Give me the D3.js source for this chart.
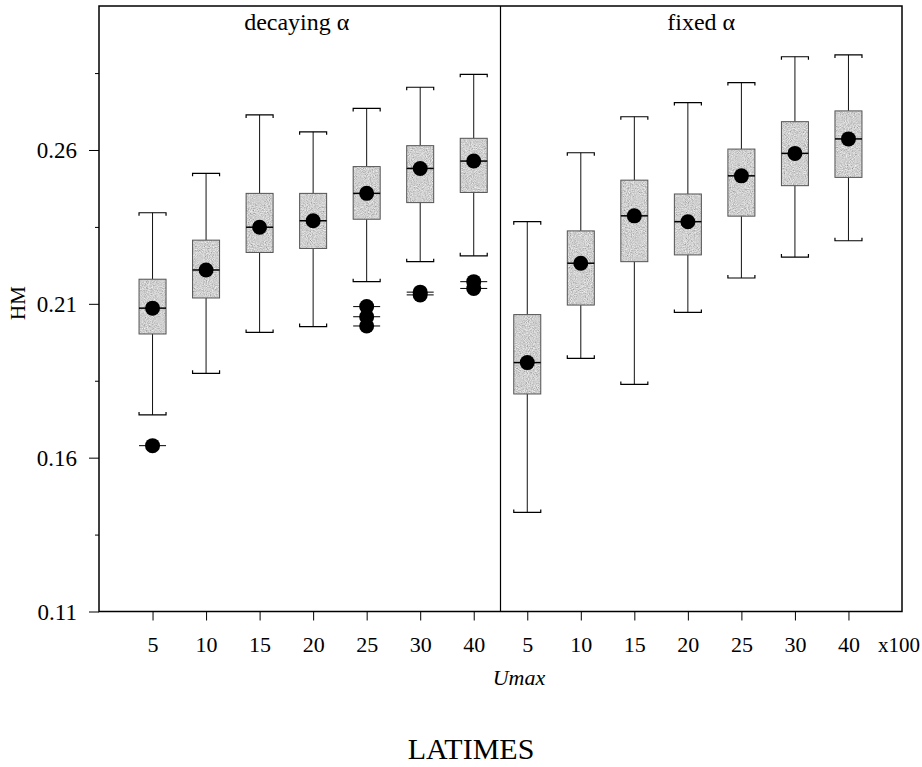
<!DOCTYPE html>
<html>
<head>
<meta charset="utf-8">
<script src="https://cdn.jsdelivr.net/npm/d3@7"></script>
<style>
  html, body { margin: 0; padding: 0; background: #fff; }
  svg { display: block; }
  text { font-family: "Liberation Serif", "Times New Roman", serif; fill: #000; }
</style>
</head>
<body>
<svg id="chart" width="922" height="767"></svg>
<script>
// ---------- data ----------
const categories = ["5", "10", "15", "20", "25", "30", "40"];
const panelTitles = ["decaying \u03b1", "fixed \u03b1"];
const yTickLabels = ["0.11", "0.16", "0.21", "0.26"];
const xUnitLabel = "x100";
const xAxisTitle = "Umax";
const yAxisTitle = "HM";
const chartTitle = "LATIMES";

// decaying alpha
const decayWhiskerHigh = [0.2396, 0.2524, 0.2714, 0.2659, 0.2735, 0.2804, 0.2846];
const decayQ3          = [0.2180, 0.2307, 0.2459, 0.2459, 0.2546, 0.2614, 0.2638];
const decayMedian      = [0.2086, 0.2210, 0.2349, 0.2370, 0.2459, 0.2540, 0.2564];
const decayQ1          = [0.2002, 0.2119, 0.2267, 0.2280, 0.2375, 0.2429, 0.2462];
const decayWhiskerLow  = [0.1739, 0.1874, 0.2007, 0.2026, 0.2172, 0.2237, 0.2256];
const decayOutliers    = [[0.1639], [], [], [], [0.2091, 0.2058, 0.2028], [0.2138, 0.2129], [0.2172, 0.2150]];

// fixed alpha
const fixedWhiskerHigh = [0.2367, 0.2591, 0.2708, 0.2754, 0.2819, 0.2903, 0.2909];
const fixedQ3          = [0.2065, 0.2337, 0.2502, 0.2457, 0.2603, 0.2692, 0.2727];
const fixedMedian      = [0.1909, 0.2232, 0.2386, 0.2367, 0.2516, 0.2589, 0.2636];
const fixedQ1          = [0.1807, 0.2096, 0.2237, 0.2259, 0.2385, 0.2484, 0.2511];
const fixedWhiskerLow  = [0.1422, 0.1923, 0.1838, 0.2072, 0.2184, 0.2252, 0.2305];
const fixedOutliers    = [[], [], [], [], [], [], []];

// ---------- build ----------
const panels = [
  { title: panelTitles[0], hi: decayWhiskerHigh, q3: decayQ3, med: decayMedian, q1: decayQ1, lo: decayWhiskerLow, out: decayOutliers },
  { title: panelTitles[1], hi: fixedWhiskerHigh, q3: fixedQ3, med: fixedMedian, q1: fixedQ1, lo: fixedWhiskerLow, out: fixedOutliers }
];
const boxes = [];
panels.forEach((p, pi) => {
  categories.forEach((c, ci) => {
    boxes.push({ pos: pi * categories.length + ci + 1, label: c,
      hi: p.hi[ci], q3: p.q3[ci], med: p.med[ci], q1: p.q1[ci], lo: p.lo[ci], out: p.out[ci] });
  });
});

const svg = d3.select("#chart");
const mLeft = 99, mRight = 902, mTop = 6, mBottom = 611.5;
const x = d3.scaleLinear().domain([0, 15]).range([mLeft, mRight]);
const y = d3.scaleLinear().domain([0.11, 0.3068]).range([mBottom, mTop]);
const divider = 7.5;

// grainy stipple texture for the boxes
const defs = svg.append("defs");
const flt = defs.append("filter").attr("id", "grain")
  .attr("x", "0").attr("y", "0").attr("width", "1").attr("height", "1");
flt.append("feTurbulence").attr("type", "fractalNoise").attr("baseFrequency", 0.95)
  .attr("numOctaves", 2).attr("seed", 7).attr("result", "noise");
flt.append("feColorMatrix").attr("in", "noise").attr("type", "matrix")
  .attr("values", "0.33 0.33 0.33 0 0  0.33 0.33 0.33 0 0  0.33 0.33 0.33 0 0  0 0 0 0 1")
  .attr("result", "grey");
const ct = flt.append("feComponentTransfer").attr("in", "grey").attr("result", "tone");
["feFuncR", "feFuncG", "feFuncB"].forEach(f =>
  ct.append(f).attr("type", "linear").attr("slope", 1.7).attr("intercept", -0.17));
flt.append("feComposite").attr("in", "tone").attr("in2", "SourceGraphic").attr("operator", "in");

const bw = 27, half = bw / 2, capTick = 3, r = 7.5;

const g = svg.append("g");
const bx = g.selectAll("g.box").data(boxes).join("g").attr("class", "box");

// whiskers
bx.append("line").attr("x1", d => x(d.pos)).attr("x2", d => x(d.pos))
  .attr("y1", d => y(d.hi)).attr("y2", d => y(d.q3)).attr("stroke", "#111").attr("stroke-width", 1);
bx.append("line").attr("x1", d => x(d.pos)).attr("x2", d => x(d.pos))
  .attr("y1", d => y(d.q1)).attr("y2", d => y(d.lo)).attr("stroke", "#111").attr("stroke-width", 1);
// caps
bx.append("path").attr("fill", "none").attr("stroke", "#000").attr("stroke-width", 1.2)
  .attr("d", d => `M${x(d.pos) - half},${y(d.hi) + capTick}V${y(d.hi)}H${x(d.pos) + half}V${y(d.hi) + capTick}`);
bx.append("path").attr("fill", "none").attr("stroke", "#000").attr("stroke-width", 1.2)
  .attr("d", d => `M${x(d.pos) - half},${y(d.lo) - capTick}V${y(d.lo)}H${x(d.pos) + half}V${y(d.lo) - capTick}`);
// box: flat grey base, grain on top, outline
bx.append("rect").attr("x", d => x(d.pos) - half).attr("width", bw)
  .attr("y", d => y(d.q3)).attr("height", d => y(d.q1) - y(d.q3))
  .attr("fill", "#acacac");
bx.append("rect").attr("x", d => x(d.pos) - half).attr("width", bw)
  .attr("y", d => y(d.q3)).attr("height", d => y(d.q1) - y(d.q3))
  .attr("fill", "#000").attr("filter", "url(#grain)").attr("opacity", 0.85);
bx.append("rect").attr("x", d => x(d.pos) - half).attr("width", bw)
  .attr("y", d => y(d.q3)).attr("height", d => y(d.q1) - y(d.q3))
  .attr("fill", "none").attr("stroke", "#555").attr("stroke-width", 1);
// median line + dot
bx.append("line").attr("x1", d => x(d.pos) - half).attr("x2", d => x(d.pos) + half)
  .attr("y1", d => y(d.med)).attr("y2", d => y(d.med)).attr("stroke", "#000").attr("stroke-width", 1.5);
bx.append("circle").attr("cx", d => x(d.pos)).attr("cy", d => y(d.med)).attr("r", r).attr("fill", "#000");
// outliers
bx.each(function(d) {
  const sel = d3.select(this).selectAll("g.out").data(d.out).join("g").attr("class", "out");
  sel.append("line").attr("x1", x(d.pos) - half).attr("x2", x(d.pos) + half)
    .attr("y1", v => y(v)).attr("y2", v => y(v)).attr("stroke", "#000").attr("stroke-width", 1);
  sel.append("circle").attr("cx", x(d.pos)).attr("cy", v => y(v)).attr("r", r).attr("fill", "#000");
});

// frame and divider
svg.append("rect").attr("x", mLeft).attr("y", mTop).attr("width", mRight - mLeft).attr("height", mBottom - mTop)
  .attr("fill", "none").attr("stroke", "#000").attr("stroke-width", 1.5);
svg.append("line").attr("x1", x(divider)).attr("x2", x(divider)).attr("y1", mTop).attr("y2", mBottom)
  .attr("stroke", "#000").attr("stroke-width", 1.2);

// panel titles
svg.selectAll("text.ptitle").data(panelTitles).join("text").attr("class", "ptitle")
  .attr("x", (d, i) => i === 0 ? (x(0) + x(divider)) / 2 - 3 : (x(divider) + x(15)) / 2)
  .attr("y", 30).attr("text-anchor", "middle").attr("font-size", 24).text(d => d);

// y axis
const majorTicks = yTickLabels.map(Number);
const yAxis = d3.axisLeft(y).tickValues(majorTicks).tickFormat((d, i) => yTickLabels[i])
  .tickSizeInner(10).tickSizeOuter(0).tickPadding(12);
const ya = svg.append("g").attr("transform", `translate(${mLeft},0)`).call(yAxis);
ya.select(".domain").remove();
ya.selectAll("text").attr("font-size", 23).attr("font-family", "Liberation Serif, serif").attr("dy", "0.34em");
ya.selectAll("line").attr("stroke-width", 1);
const minorTicks = [0.135, 0.185, 0.235, 0.285];
svg.append("g").attr("transform", `translate(${mLeft},0)`)
  .call(d3.axisLeft(y).tickValues(minorTicks).tickFormat("").tickSizeInner(4).tickSizeOuter(0))
  .call(s => s.select(".domain").remove());

// x axis
const xAxis = d3.axisBottom(x).tickValues(boxes.map(d => d.pos))
  .tickFormat((d, i) => boxes[i].label).tickSizeInner(9).tickSizeOuter(0).tickPadding(16);
const xa = svg.append("g").attr("transform", `translate(0,${mBottom})`).call(xAxis);
xa.select(".domain").remove();
xa.selectAll("text").attr("font-size", 22).attr("font-family", "Liberation Serif, serif");

svg.append("text").attr("x", 899).attr("y", 652).attr("text-anchor", "middle")
  .attr("font-size", 21).text(xUnitLabel);

svg.append("text").attr("x", 519).attr("y", 685).attr("text-anchor", "middle")
  .attr("font-size", 22).attr("font-style", "italic").text(xAxisTitle);

svg.append("text").attr("transform", `translate(25,303) rotate(-90)`).attr("text-anchor", "middle")
  .attr("font-size", 21).text(yAxisTitle);

svg.append("text").attr("x", 471).attr("y", 759).attr("text-anchor", "middle")
  .attr("font-size", 30).text(chartTitle);
</script>
</body>
</html>
